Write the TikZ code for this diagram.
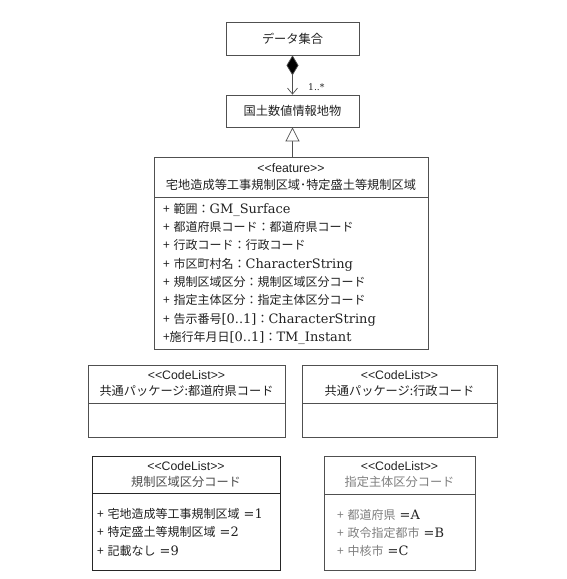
\documentclass[tikz,border=0pt]{standalone}
\usepackage{fontspec}
\setmainfont{Noto Sans CJK JP}
\newfontfamily\latinserif[Scale=1.08]{DejaVu Serif}
\newfontfamily\arialsans{Liberation Sans}
\usetikzlibrary{arrows.meta,positioning}
\definecolor{umlLine}{HTML}{505050}
\definecolor{umlText}{HTML}{222222}
\definecolor{umlGray}{HTML}{808080}
\newcommand{\stereo}[1]{{\arialsans\fontsize{12.3}{14}\selectfont\textless\textless #1\textgreater\textgreater}}
\newcommand{\lt}[1]{{\latinserif #1}}
\tikzset{
  classbox/.style={draw=umlLine, line width=0.8pt, fill=white, inner sep=0pt,
    align=center, text=umlText, font=\fontsize{12.2}{16}\selectfont},
  attrbox/.style={draw=umlLine, line width=0.8pt, fill=white, inner ysep=0pt,
    align=left, text=umlText, font=\fontsize{12}{18.3}\selectfont},
  assoc/.style={umlLine, line width=0.7pt,
    {Diamond[length=20pt,width=12pt,fill=black]}-{Straight Barb[length=6pt,width=10pt]}},
  generalize/.style={umlLine, line width=0.7pt,
    -{Triangle[open,length=14pt,width=14pt,fill=white]}}
}

\begin{document}
\begin{tikzpicture}[x=1pt,y=-1pt]
  \useasboundingbox (0,0) rectangle (567,579);

  % upper classes
  \node[classbox, minimum width=133pt, minimum height=33pt] (dataset) at (292.5,38.5) {データ集合};
  \node[classbox, minimum width=133pt, minimum height=32pt] (kokudo) at (292.5,111) {国土数値情報地物};

  % feature class
  \node[classbox, minimum width=274pt, minimum height=40pt] (feature) at (291,177)
    {\stereo{feature}\\[1pt]宅地造成等工事規制区域･特定盛土等規制区域};
  \node[attrbox, below=0pt of feature, minimum height=152pt, text width=256pt, inner xsep=9pt] (featureattr)
    {+ 範囲：\lt{GM\_Surface}\\
     + 都道府県コード：都道府県コード\\
     + 行政コード：行政コード\\
     + 市区町村名：\lt{CharacterString}\\
     + 規制区域区分：規制区域区分コード\\
     + 指定主体区分：指定主体区分コード\\
     + 告示番号\lt{[0..1]}：\lt{CharacterString}\\
     +施行年月日\lt{[0..1]}：\lt{TM\_Instant}};

  % common package code lists
  \node[classbox, minimum width=197pt, minimum height=38pt] (prefcode) at (186.5,384)
    {\stereo{CodeList}\\共通パッケージ:都道府県コード};
  \node[attrbox, below=0pt of prefcode, minimum width=197pt, minimum height=34pt] (prefcodeattr) {};
  \node[classbox, minimum width=195pt, minimum height=38pt] (admincode) at (399.5,384)
    {\stereo{CodeList}\\共通パッケージ:行政コード};
  \node[attrbox, below=0pt of admincode, minimum width=195pt, minimum height=34pt] (admincodeattr) {};

  % code lists of this package
  \node[classbox, draw=black!85, minimum width=188pt, minimum height=37pt] (areacode) at (186,474.5)
    {\stereo{CodeList}\\\textcolor{black!70}{規制区域区分コード}};
  \node[attrbox, draw=black!85, below=0pt of areacode, minimum height=77pt, text width=178pt, inner xsep=5pt] (areacodeattr)
    {+ 宅地造成等工事規制区域 \lt{=1}\\
     + 特定盛土等規制区域 \lt{=2}\\
     + 記載なし \lt{=9}};
  \node[classbox, minimum width=151pt, minimum height=38pt] (bodycode) at (399.5,475)
    {\stereo{CodeList}\\\textcolor{umlGray}{指定主体区分コード}};
  \node[attrbox, below=0pt of bodycode, minimum height=76pt, text width=125pt, inner xsep=13pt, text=umlGray] (bodycodeattr)
    {+ 都道府県 \textcolor{umlText}{\lt{=A}}\\
     + 政令指定都市 \textcolor{umlText}{\lt{=B}}\\
     + 中核市 \textcolor{umlText}{\lt{=C}}};

  % relations
  \draw[assoc] (dataset) -- (kokudo)
    node[pos=0.82, right=12pt, text=umlText, font=\latinserif\fontsize{8.5}{9}\selectfont] (mult) {1..*};
  \draw[generalize] (kokudo.south |- feature.north) -- (kokudo.south);
\end{tikzpicture}
\end{document}
